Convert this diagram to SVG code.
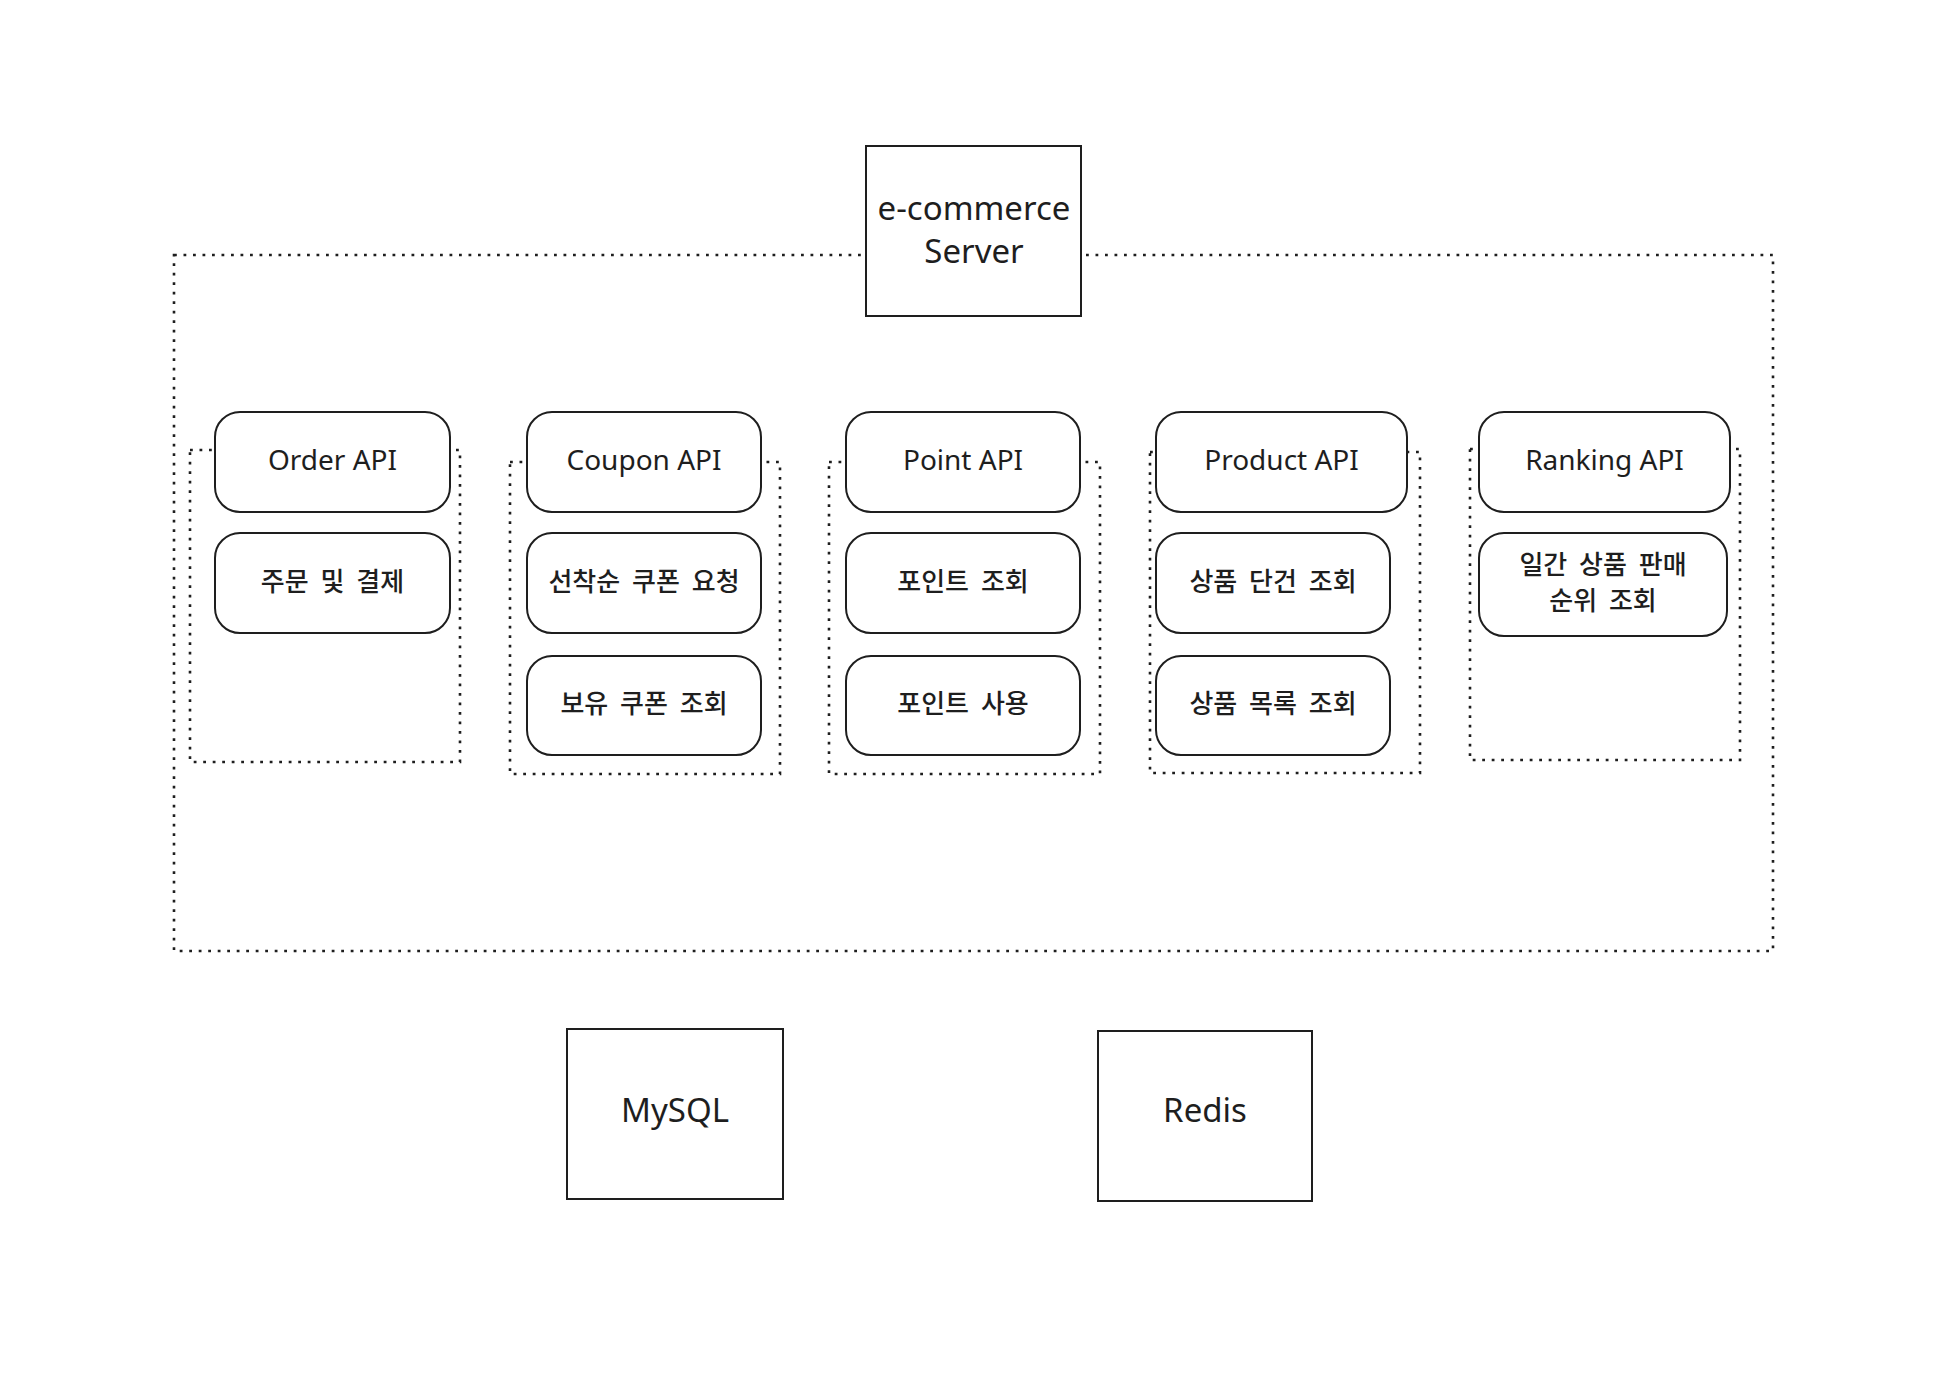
<svg xmlns="http://www.w3.org/2000/svg" width="1945" height="1381" viewBox="0 0 1945 1381">
<style>
.dot{fill:none;stroke:#1e1e1e;stroke-width:2.6;stroke-dasharray:2.8 6.7}
.box{fill:#fff;stroke:#1e1e1e;stroke-width:2}
.lat{font-family:"Noto Sans","Liberation Sans",sans-serif;fill:#1e1e1e;text-anchor:middle;dominant-baseline:central}
.kr{font-family:"Noto Sans CJK KR","Noto Sans",sans-serif;fill:#1e1e1e;text-anchor:middle;dominant-baseline:central;font-size:26px;font-weight:500;word-spacing:6px}
.api{font-size:28px}
.big{font-size:33px}
</style>
<rect width="1945" height="1381" fill="#fff"/>
<g id="containers">
<rect id="server-boundary" class="dot" x="174" y="255" width="1599" height="696"/>
<rect id="order-group" class="dot" x="190" y="450" width="270" height="312"/>
<rect id="coupon-group" class="dot" x="510" y="462" width="270" height="312"/>
<rect id="point-group" class="dot" x="829" y="462" width="271" height="312"/>
<rect id="product-group" class="dot" x="1150" y="452" width="270" height="321"/>
<rect id="ranking-group" class="dot" x="1470" y="449" width="270" height="311"/>
</g>
<g id="connectors"></g>
<g id="server">
<rect class="box" x="866" y="146" width="215" height="170"/>
<text class="lat big" x="974" y="207">e-commerce</text>
<text class="lat big" x="974" y="250">Server</text>
</g>
<g id="order-api"><rect class="box" x="215" y="412" width="235" height="100" rx="25"/><text class="lat api" x="332.5" y="459">Order API</text></g>
<g id="order-pay"><rect class="box" x="215" y="533" width="235" height="100" rx="25"/><text class="kr" x="332.5" y="579">주문 및 결제</text></g>
<g id="coupon-api"><rect class="box" x="527" y="412" width="234" height="100" rx="25"/><text class="lat api" x="644" y="459">Coupon API</text></g>
<g id="coupon-issue"><rect class="box" x="527" y="533" width="234" height="100" rx="25"/><text class="kr" x="644" y="579">선착순 쿠폰 요청</text></g>
<g id="coupon-list"><rect class="box" x="527" y="656" width="234" height="99" rx="25"/><text class="kr" x="644" y="701">보유 쿠폰 조회</text></g>
<g id="point-api"><rect class="box" x="846" y="412" width="234" height="100" rx="25"/><text class="lat api" x="963" y="459">Point API</text></g>
<g id="point-get"><rect class="box" x="846" y="533" width="234" height="100" rx="25"/><text class="kr" x="963" y="579">포인트 조회</text></g>
<g id="point-use"><rect class="box" x="846" y="656" width="234" height="99" rx="25"/><text class="kr" x="963" y="701">포인트 사용</text></g>
<g id="product-api"><rect class="box" x="1156" y="412" width="251" height="100" rx="25"/><text class="lat api" x="1281.5" y="459">Product API</text></g>
<g id="product-get"><rect class="box" x="1156" y="533" width="234" height="100" rx="25"/><text class="kr" x="1273" y="579">상품 단건 조회</text></g>
<g id="product-list"><rect class="box" x="1156" y="656" width="234" height="99" rx="25"/><text class="kr" x="1273" y="701">상품 목록 조회</text></g>
<g id="ranking-api"><rect class="box" x="1479" y="412" width="251" height="100" rx="25"/><text class="lat api" x="1604.5" y="459">Ranking API</text></g>
<g id="ranking-daily"><rect class="box" x="1479" y="533" width="248" height="103" rx="25"/><text class="kr" x="1603" y="562">일간 상품 판매</text><text class="kr" x="1603" y="598">순위 조회</text></g>
<g id="mysql"><rect class="box" x="567" y="1029" width="216" height="170"/><text class="lat big" x="675" y="1109">MySQL</text></g>
<g id="redis"><rect class="box" x="1098" y="1031" width="214" height="170"/><text class="lat big" x="1205" y="1109">Redis</text></g>
</svg>
